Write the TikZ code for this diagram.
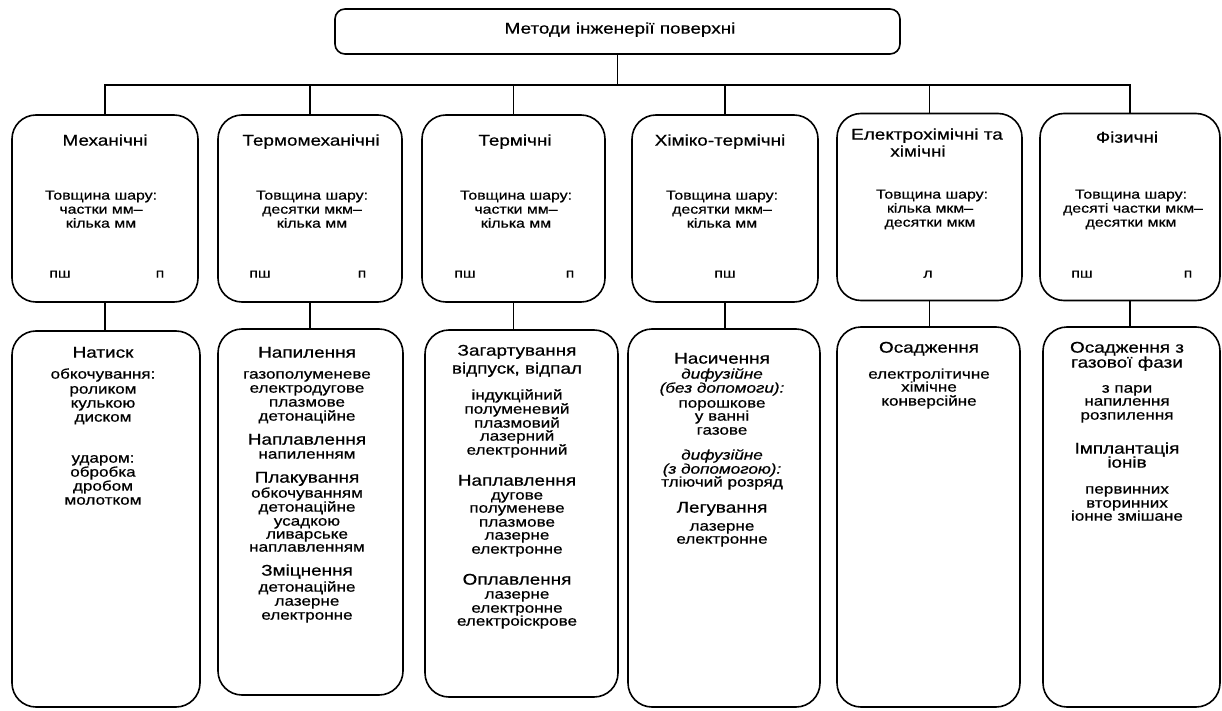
\documentclass[tikz,border=0pt]{standalone}
\usepackage{fontspec}
\setmainfont{Liberation Sans}[FakeStretch=1.22,FakeBold=0.6]
\begin{document}
\begin{tikzpicture}[x=1pt,y=-1pt,
  box/.style={draw, line width=1.6pt, rounded corners=24pt, inner sep=0pt},
  conn/.style={line width=1.6pt},
  ttl/.style={inner sep=0pt, anchor=mid, font=\fontsize{15.5}{15.5}\selectfont},
  itm/.style={inner sep=0pt, anchor=mid, font=\fontsize{14}{14}\selectfont},
  itx/.style={inner sep=0pt, anchor=mid, font=\fontsize{14}{14}\selectfont\itshape},
  bdy/.style={inner sep=0pt, anchor=mid, font=\fontsize{13}{13}\selectfont}]
\useasboundingbox[fill=white] (0,0) rectangle (1222,711);

% top box
\node[box, rounded corners=10pt, minimum width=565pt, minimum height=45pt] (top) at (617.5,31.5) {};
\node[ttl] (toptxt) at (620,31) {Методи інженерії поверхні};

% upper boxes
\node[box, minimum width=186pt, minimum height=187pt] (u1) at (105,208.5) {};
\node[box, minimum width=184pt, minimum height=187pt] (u2) at (310,208.5) {};
\node[box, minimum width=183pt, minimum height=187pt] (u3) at (513.5,208.5) {};
\node[box, minimum width=186pt, minimum height=187pt] (u4) at (725,208.5) {};
\node[box, minimum width=185pt, minimum height=187pt] (u5) at (929.5,207) {};
\node[box, minimum width=180pt, minimum height=187pt] (u6) at (1130,207) {};

% lower boxes
\node[box, minimum width=188pt, minimum height=376pt] (l1) at (106,519) {};
\node[box, minimum width=185pt, minimum height=366pt] (l2) at (310.5,512) {};
\node[box, minimum width=193pt, minimum height=367pt] (l3) at (521.5,513.5) {};
\node[box, minimum width=192pt, minimum height=378pt] (l4) at (724,518) {};
\node[box, minimum width=183pt, minimum height=380pt] (l5) at (928.5,517) {};
\node[box, minimum width=177pt, minimum height=380pt] (l6) at (1131.5,517) {};

% connectors
\coordinate (bus) at (617.5,85);
\draw[conn] (top.south) -- (top.south |- bus);
\draw[conn] (u1.north) |- (u6.north |- bus) -- (u6.north);
\draw[conn] (u2.north) -- (u2.north |- bus);
\draw[conn] (u3.north) -- (u3.north |- bus);
\draw[conn] (u4.north) -- (u4.north |- bus);
\draw[conn] (u5.north) -- (u5.north |- bus);
\draw[conn] (u1.south) -- (u1.south |- l1.north);
\draw[conn] (u2.south) -- (u2.south |- l2.north);
\draw[conn] (u3.south) -- (u3.south |- l3.north);
\draw[conn] (u4.south) -- (u4.south |- l4.north);
\draw[conn] (u5.south) -- (u5.south |- l5.north);
\draw[conn] (u6.south) -- (u6.south |- l6.north);

% upper texts
\node[ttl] (h1) at (105,143) {Механічні};
\node[bdy] (b1a) at (101,197) {Товщина шару:};
\node[bdy] (b1b) at (101,211) {частки мм–};
\node[bdy] (b1c) at (101,225) {кілька мм};
\node[bdy] (p1a) at (60,275) {пш};
\node[bdy] (p1b) at (160,275) {п};

\node[ttl] (h2) at (311,143) {Термомеханічні};
\node[bdy] (b2a) at (312,197) {Товщина шару:};
\node[bdy] (b2b) at (312,211) {десятки мкм–};
\node[bdy] (b2c) at (312,225) {кілька мм};
\node[bdy] (p2a) at (260,275) {пш};
\node[bdy] (p2b) at (362,275) {п};

\node[ttl] (h3) at (515,143) {Термічні};
\node[bdy] (b3a) at (516,197) {Товщина шару:};
\node[bdy] (b3b) at (516,211) {частки мм–};
\node[bdy] (b3c) at (516,225) {кілька мм};
\node[bdy] (p3a) at (465,275) {пш};
\node[bdy] (p3b) at (570,275) {п};

\node[ttl] (h4) at (720,143) {Хіміко-термічні};
\node[bdy] (b4a) at (722,197) {Товщина шару:};
\node[bdy] (b4b) at (722,211) {десятки мкм–};
\node[bdy] (b4c) at (722,225) {кілька мм};
\node[bdy] (p4a) at (725,275) {пш};

\node[ttl] (h5a) at (927,137) {Електрохімічні та};
\node[ttl] (h5b) at (918,154) {хімічні};
\node[bdy] (b5a) at (932,196) {Товщина шару:};
\node[bdy] (b5b) at (930,210) {кілька мкм–};
\node[bdy] (b5c) at (930,224) {десятки мкм};
\node[bdy] (p5a) at (928,275) {л};

\node[ttl] (h6) at (1127,140) {Фізичні};
\node[bdy] (b6a) at (1131,196) {Товщина шару:};
\node[bdy] (b6b) at (1133,210) {десяті частки мкм–};
\node[bdy] (b6c) at (1131,224) {десятки мкм};
\node[bdy] (p6a) at (1082,275) {пш};
\node[bdy] (p6b) at (1188,275) {п};

% column 1 lower
\node[ttl] (c1h1) at (103,355) {Натиск};
\node[itm] (c1i1) at (103,376) {обкочування:};
\node[itm] (c1i2) at (103,391) {роликом};
\node[itm] (c1i3) at (103,405) {кулькою};
\node[itm] (c1i4) at (103,419) {диском};
\node[itm] (c1i5) at (103,460) {ударом:};
\node[itm] (c1i6) at (103,474) {обробка};
\node[itm] (c1i7) at (103,488) {дробом};
\node[itm] (c1i8) at (103,502) {молотком};

% column 2 lower
\node[ttl] (c2h1) at (307,355) {Напилення};
\node[itm] (c2i1) at (307,376) {газополуменеве};
\node[itm] (c2i2) at (307,390) {електродугове};
\node[itm] (c2i3) at (307,404) {плазмове};
\node[itm] (c2i4) at (307,418) {детонаційне};
\node[ttl] (c2h2) at (307,442) {Наплавлення};
\node[itm] (c2i5) at (307,456) {напиленням};
\node[ttl] (c2h3) at (307,480) {Плакування};
\node[itm] (c2i6) at (307,495) {обкочуванням};
\node[itm] (c2i7) at (307,509) {детонаційне};
\node[itm] (c2i8) at (307,523) {усадкою};
\node[itm] (c2i9) at (307,536) {ливарське};
\node[itm] (c2i10) at (307,549) {наплавленням};
\node[ttl] (c2h4) at (307,573) {Зміцнення};
\node[itm] (c2i11) at (307,589) {детонаційне};
\node[itm] (c2i12) at (307,603) {лазерне};
\node[itm] (c2i13) at (307,617) {електронне};

% column 3 lower
\node[ttl] (c3h1) at (517,353) {Загартування};
\node[ttl] (c3h2) at (517,371) {відпуск, відпал};
\node[itm] (c3i1) at (517,397) {індукційний};
\node[itm] (c3i2) at (517,411) {полуменевий};
\node[itm] (c3i3) at (517,425) {плазмовий};
\node[itm] (c3i4) at (517,438) {лазерний};
\node[itm] (c3i5) at (517,452) {електронний};
\node[ttl] (c3h3) at (517,483) {Наплавлення};
\node[itm] (c3i6) at (517,497) {дугове};
\node[itm] (c3i7) at (517,510) {полуменеве};
\node[itm] (c3i8) at (517,524) {плазмове};
\node[itm] (c3i9) at (517,537) {лазерне};
\node[itm] (c3i10) at (517,551) {електронне};
\node[ttl] (c3h4) at (517,582) {Оплавлення};
\node[itm] (c3i11) at (517,596) {лазерне};
\node[itm] (c3i12) at (517,610) {електронне};
\node[itm] (c3i13) at (517,623) {електроіскрове};

% column 4 lower
\node[ttl] (c4h1) at (722,361) {Насичення};
\node[itx] (c4i1) at (722,376) {дифузійне};
\node[itx] (c4i2) at (722,390) {(без допомоги):};
\node[itm] (c4i3) at (722,405) {порошкове};
\node[itm] (c4i4) at (722,418) {у ванні};
\node[itm] (c4i5) at (722,432) {газове};
\node[itx] (c4i6) at (722,457) {дифузійне};
\node[itx] (c4i7) at (722,471) {(з допомогою):};
\node[itm] (c4i8) at (722,484) {тліючий розряд};
\node[ttl] (c4h2) at (722,510) {Легування};
\node[itm] (c4i9) at (722,528) {лазерне};
\node[itm] (c4i10) at (722,541) {електронне};

% column 5 lower
\node[ttl] (c5h1) at (929,350) {Осадження};
\node[itm] (c5i1) at (929,376) {електролітичне};
\node[itm] (c5i2) at (929,389) {хімічне};
\node[itm] (c5i3) at (929,403) {конверсійне};

% column 6 lower
\node[ttl] (c6h1) at (1127,350) {Осадження з};
\node[ttl] (c6h2) at (1127,365) {газової фази};
\node[itm] (c6i1) at (1127,390) {з пари};
\node[itm] (c6i2) at (1127,403) {напилення};
\node[itm] (c6i3) at (1127,417) {розпилення};
\node[ttl] (c6h3) at (1127,451) {Імплантація};
\node[ttl] (c6h4) at (1127,465) {іонів};
\node[itm] (c6i4) at (1127,491) {первинних};
\node[itm] (c6i5) at (1127,505) {вторинних};
\node[itm] (c6i6) at (1127,518) {іонне змішане};
\end{tikzpicture}
\end{document}
